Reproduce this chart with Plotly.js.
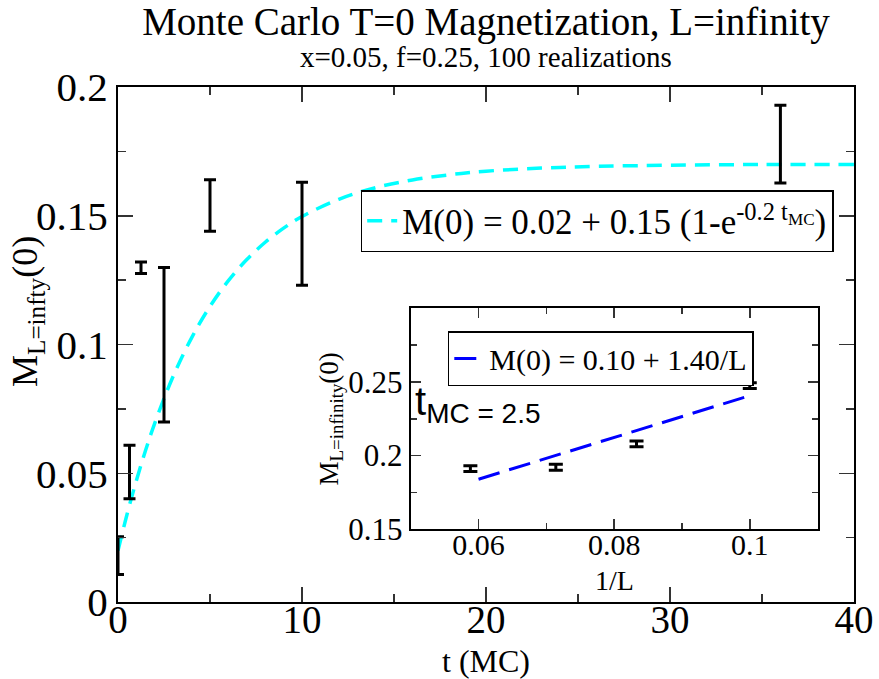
<!DOCTYPE html>
<html>
<head>
<meta charset="utf-8">
<script src="https://cdn.plot.ly/plotly-3.0.1.min.js"></script>
<style>html,body{margin:0;padding:0;background:#fff;}#chart{width:879px;height:679px;}</style>
</head>
<body>
<div id="chart"></div>
<script>
// Main panel: Monte Carlo data (t in MC steps)
var tMC = [0, 0.625, 1.25, 2.5, 5, 10, 36];
var magMain = [0.018, 0.0505, 0.1298, 0.0999, 0.154, 0.143, 0.1778];
var magMainErr = [0.0073, 0.0104, 0.0022, 0.030, 0.010, 0.020, 0.0151];

// Main panel fit curve values
var fitT = [0, 0.5, 1, 1.5, 2, 3, 4, 5, 6, 7, 8, 9, 10, 12, 14, 16, 18, 20, 23, 26, 30, 35, 40];
var fitM = [0.02, 0.0343, 0.0472, 0.0589, 0.0695, 0.0877, 0.1026, 0.1148, 0.1248, 0.1330, 0.1397, 0.1452, 0.1497, 0.1564, 0.1609, 0.1639, 0.1659, 0.1673, 0.1685, 0.1692, 0.1696, 0.1699, 0.1699];

// Inset: finite size data at t_MC = 2.5
var invL = [0.0588, 0.0714, 0.0833, 0.1];
var magInset = [0.1912, 0.1921, 0.208, 0.2475];
var magInsetErr = [0.002, 0.002, 0.002, 0.002];
var fitInvL = [0.06, 0.1];
var fitInsetM = [0.184, 0.2407];

var serif = "Liberation Serif";
var sans = "Liberation Sans";

var traces = [
  {x: fitT, y: fitM, type: 'scatter', mode: 'lines', line: {color: '#00ffff', width: 3.5, dash: '15px,9px', shape: 'spline'},
   name: "M(0) = 0.02 + 0.15 (1-e<sup>-0.2 t<sub>MC</sub></sup>)", legend: 'legend', xaxis: 'x', yaxis: 'y'},
  {x: tMC, y: magMain, type: 'scatter', mode: 'markers', marker: {size: 1, color: 'rgba(0,0,0,0)'},
   error_y: {type: 'data', array: magMainErr, visible: true, color: '#000', thickness: 3, width: 6},
   showlegend: false, xaxis: 'x', yaxis: 'y'},
  {x: fitInvL, y: fitInsetM, type: 'scatter', mode: 'lines', line: {color: '#0000ff', width: 3, dash: '22px,10px'},
   name: "M(0) = 0.10 + 1.40/L", legend: 'legend2', xaxis: 'x2', yaxis: 'y2'},
  {x: invL, y: magInset, type: 'scatter', mode: 'markers', marker: {size: 1, color: 'rgba(0,0,0,0)'},
   error_y: {type: 'data', array: magInsetErr, visible: true, color: '#000', thickness: 3, width: 7},
   showlegend: false, xaxis: 'x2', yaxis: 'y2'}
];

var L = 118, T = 87, B = 77, R = 25;
var PW = 879 - L - R, PH = 679 - T - B;
function px(x) { return (x - L) / PW; }
function py(y) { return (679 - B - y) / PH; }

var layout = {
  width: 879, height: 679,
  margin: {l: L, r: R, t: T, b: B},
  paper_bgcolor: '#fff', plot_bgcolor: '#fff',
  font: {family: serif, color: '#000'},
  title: {
    text: "Monte Carlo T=0 Magnetization, L=infinity",
    font: {family: serif, size: 39, color: '#000'},
    x: 0.5, xref: 'paper', xanchor: 'center',
    y: 1 - 8 / 679, yref: 'container', yanchor: 'top', pad: {t: 0, b: 0}
  },
  xaxis: {
    domain: [0, 1], range: [0, 40], dtick: 10, tick0: 0,
    ticks: 'inside', ticklen: 15, tickwidth: 1.5, tickcolor: '#333',
    minor: {dtick: 5, ticklen: 8, tickwidth: 1.5, tickcolor: '#333', ticks: 'inside'},
    showline: true, linecolor: '#000', linewidth: 2, mirror: 'allticks',
    showgrid: false, zeroline: false,
    ticklabelstandoff: -18,
    tickfont: {family: serif, size: 39, color: '#000'}
  },
  yaxis: {
    domain: [0, 1], range: [0, 0.2], dtick: 0.05, tick0: 0,
    ticks: 'inside', ticklen: 15, tickwidth: 1.5, tickcolor: '#333',
    minor: {dtick: 0.025, ticklen: 8, tickwidth: 1.5, tickcolor: '#333', ticks: 'inside'},
    showline: true, linecolor: '#000', linewidth: 2, mirror: 'allticks',
    showgrid: false, zeroline: false,
    tickfont: {family: serif, size: 41, color: '#000'}
  },
  xaxis2: {
    domain: [px(410.7), px(817.6)], anchor: 'y2', range: [0.05, 0.11], dtick: 0.02, tick0: 0,
    ticks: 'inside', ticklen: 10, tickwidth: 1.5, tickcolor: '#333',
    minor: {dtick: 0.01, ticklen: 6, tickwidth: 1.5, tickcolor: '#333', ticks: 'inside'},
    showline: true, linecolor: '#000', linewidth: 2, mirror: 'allticks',
    showgrid: false, zeroline: false,
    ticklabelstandoff: -12,
    tickfont: {family: serif, size: 30, color: '#000'}
  },
  yaxis2: {
    domain: [py(529.3), py(308.3)], anchor: 'x2', range: [0.15, 0.30],
    tickvals: [0.15, 0.2, 0.25], ticktext: ['0.15', '0.2', '0.25'],
    ticks: 'inside', ticklen: 10, tickwidth: 1.5, tickcolor: '#333',
    minor: {tickvals: [0.175, 0.225, 0.275, 0.3], ticklen: 6, tickwidth: 1.5, tickcolor: '#333', ticks: 'inside'},
    showline: true, linecolor: '#000', linewidth: 2, mirror: 'allticks',
    showgrid: false, zeroline: false,
    tickfont: {family: serif, size: 31, color: '#000'},
    title: {text: "M<sub>L=infinity</sub>(0)", font: {family: serif, size: 27, color: '#000'}, standoff: 2}
  },
  legend: {
    x: px(360.7), y: py(190), xanchor: 'left', yanchor: 'top', xref: 'paper', yref: 'paper',
    bgcolor: '#fff', bordercolor: '#000', borderwidth: 1.5,
    font: {family: serif, size: 35, color: '#000'}
  },
  legend2: {
    x: px(447.8), y: py(331), xanchor: 'left', yanchor: 'top', xref: 'paper', yref: 'paper',
    bgcolor: '#fff', bordercolor: '#000', borderwidth: 1.5,
    font: {family: serif, size: 30, color: '#000'}
  },
  annotations: [
    {text: "x=0.05, f=0.25, 100 realizations", xref: 'paper', yref: 'paper', x: 0.5, y: py(57),
     xanchor: 'center', yanchor: 'middle', showarrow: false,
     font: {family: serif, size: 29, color: '#000'}},
    {text: "t (MC)", xref: 'paper', yref: 'paper', x: 0.5, y: py(661),
     xanchor: 'center', yanchor: 'middle', showarrow: false,
     font: {family: serif, size: 32, color: '#000'}},
    {text: "M<sub>L=infty</sub>(0)", xref: 'paper', yref: 'paper', x: px(27), y: py(312),
     xanchor: 'center', yanchor: 'middle', textangle: -90, showarrow: false,
     font: {family: serif, size: 36, color: '#000'}},
    {text: "1/L", xref: 'paper', yref: 'paper', x: px(614), y: py(580),
     xanchor: 'center', yanchor: 'middle', showarrow: false,
     font: {family: serif, size: 28, color: '#000'}},
    {text: "t<sub>MC = 2.5</sub>", xref: 'paper', yref: 'paper', x: px(413), y: py(377),
     xanchor: 'left', yanchor: 'top', showarrow: false,
     font: {family: sans, size: 40, color: '#000'}}
  ],
  showlegend: true
};

Plotly.newPlot('chart', traces, layout, {displayModeBar: false, staticPlot: true});
</script>
</body>
</html>
